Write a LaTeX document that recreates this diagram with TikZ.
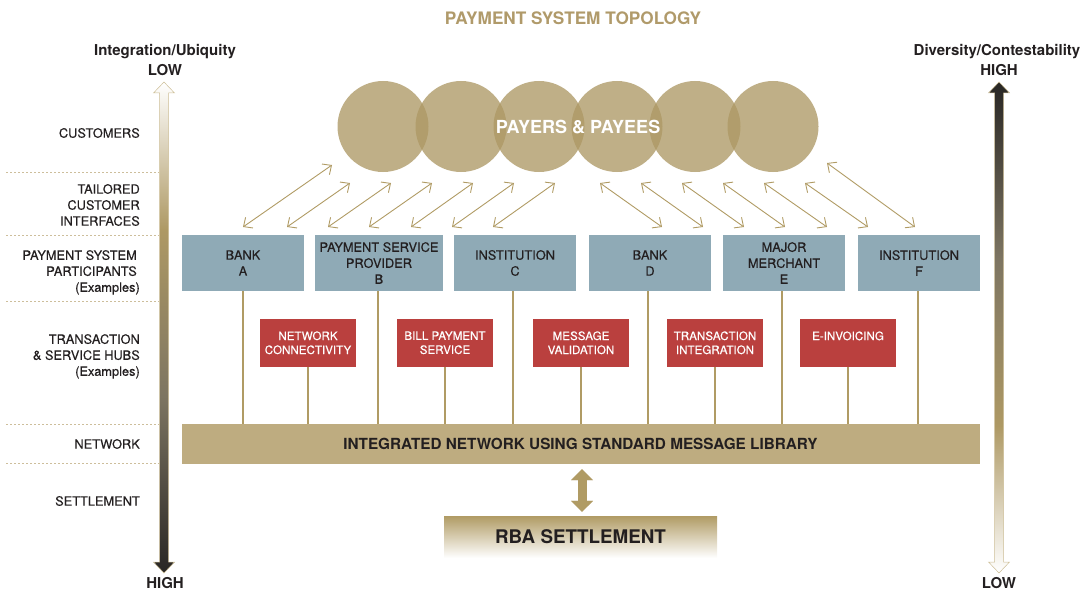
\documentclass[tikz,border=0pt]{standalone}
\usepackage{fontspec}
\setmainfont{TeX Gyre Heros}
\newfontfamily\medfont[FakeBold=0.35]{TeX Gyre Heros}
\usetikzlibrary{arrows.meta}
\newcommand\myfs[2]{\fontsize{#1}{#2}\selectfont}
\definecolor{gold}{RGB}{176,155,100}
\definecolor{titlegold}{RGB}{176,154,106}
\definecolor{circ}{RGB}{172,151,99}
\definecolor{bluebox}{RGB}{143,170,182}
\definecolor{redbox}{RGB}{186,64,62}
\definecolor{netbar}{RGB}{190,172,128}
\definecolor{dark}{RGB}{35,31,32}
\definecolor{dashc}{RGB}{205,190,155}
\definecolor{bardark}{RGB}{40,38,36}
\definecolor{bargold}{RGB}{174,153,100}
\definecolor{bargray}{RGB}{125,117,98}
\definecolor{lightgold}{RGB}{205,190,150}
\pgfdeclareverticalshading{leftbar}{100bp}{color(0bp)=(bardark); color(25bp)=(bardark); color(43bp)=(bargray); color(60bp)=(bargold); color(75bp)=(white); color(100bp)=(white)}
\pgfdeclareverticalshading{rightbar}{100bp}{color(0bp)=(white); color(25bp)=(white); color(40bp)=(bargold); color(57bp)=(bargray); color(75bp)=(bardark); color(100bp)=(bardark)}
\tikzset{
  lbl/.style={anchor=east, align=right, font=\medfont\myfs{12.8}{16}, text=dark, inner sep=0pt},
  axl/.style={anchor=base, font=\bfseries\myfs{15}{18}, text=dark, inner sep=0pt},
  bbox/.style={rectangle, fill=bluebox, minimum width=122, minimum height=56, inner sep=0pt, align=center, font=\medfont\myfs{12.8}{16}, text=dark},
  rbox/.style={rectangle, fill=redbox, minimum width=96, minimum height=48, inner sep=0pt, align=center, font=\medfont\myfs{11.6}{14}, text=white},
  conn/.style={draw=gold, line width=2},
  dbl/.style={draw=gold, line width=0.9, {Straight Barb[length=7pt,width=13pt]}-{Straight Barb[length=7pt,width=13pt]}},
  dashline/.style={draw=dashc, line width=0.8, dash pattern=on 2pt off 2pt},
  circnode/.style={circle, fill=circ, fill opacity=0.77, minimum size=91, inner sep=0pt},
}
\begin{document}
\begin{tikzpicture}[x=1pt,y=-1pt]
\useasboundingbox (0,0) rectangle (1083,591);

% title
\node[anchor=base, font=\bfseries\myfs{17.2}{20}, text=titlegold, inner sep=0pt] (title) at (573,24.5) {PAYMENT SYSTEM TOPOLOGY};

% axis labels
\node[axl] (ltop) at (165,55.3) {Integration/Ubiquity};
\node[axl] (llow) at (165,75.3) {LOW};
\node[axl] (lhigh) at (165,588.8) {HIGH};
\node[axl] (rtop) at (997,55.3) {Diversity/Contestability};
\node[axl] (rhigh) at (999,75.3) {HIGH};
\node[axl] (rlow) at (999,588.8) {LOW};

% side arrows
\shadedraw[shading=leftbar, draw=lightgold, line width=0.5] (164,82) -- (174.5,93) -- (168.5,93) -- (168.5,562) -- (174.5,562) -- (164,573) -- (153.5,562) -- (159.5,562) -- (159.5,93) -- (153.5,93) -- cycle;
\shadedraw[shading=rightbar, draw=lightgold, line width=0.5] (999,82) -- (1009.5,93) -- (1003.5,93) -- (1003.5,562) -- (1009.5,562) -- (999,573) -- (988.5,562) -- (994.5,562) -- (994.5,93) -- (988.5,93) -- cycle;

% dashed separators
\foreach \yy in {172,235,301,424,463} \draw[dashline] (6,\yy) -- (159,\yy);

% left labels
\node[lbl] (lcust) at (140,133) {CUSTOMERS};
\node[lbl] (ltail) at (140,205) {TAILORED\\CUSTOMER\\INTERFACES};
\node[lbl, text depth=0pt] (lpart) at (140,271) {PAYMENT SYSTEM\kern3pt\\PARTICIPANTS\kern3pt\\(Examples)};
\node[lbl, text depth=0pt] (lhub) at (140,355) {TRANSACTION\\\& SERVICE HUBS\\(Examples)};
\node[lbl] (lnet) at (140,444) {NETWORK};
\node[lbl] (lset) at (140,501) {SETTLEMENT};

% customers circles
\node[circnode] (c1) at (383,126.5) {};
\node[circnode] (c2) at (461,126.5) {};
\node[circnode] (c3) at (539,126.5) {};
\node[circnode] (c4) at (617,126.5) {};
\node[circnode] (c5) at (695,126.5) {};
\node[circnode] (c6) at (773,126.5) {};
\node[font=\bfseries\myfs{18}{20}, text=white, inner sep=0pt] (payers) at (578,126.7) {PAYERS \& PAYEES};

% interface arrows
\coordinate (la1) at (243,227); \coordinate (lb1) at (332,165);
\coordinate (la2) at (287,227); \coordinate (lb2) at (350,183);
\coordinate (la3) at (328,227); \coordinate (lb3) at (391,183);
\coordinate (la4) at (369,227); \coordinate (lb4) at (432,183);
\coordinate (la5) at (411,227); \coordinate (lb5) at (473,183);
\coordinate (la6) at (452,227); \coordinate (lb6) at (514,183);
\coordinate (la7) at (493,227); \coordinate (lb7) at (555,183);
\coordinate (ra1) at (600,183); \coordinate (rb1) at (662,227);
\coordinate (ra2) at (641,183); \coordinate (rb2) at (703,227);
\coordinate (ra3) at (682,183); \coordinate (rb3) at (744,227);
\coordinate (ra4) at (723,183); \coordinate (rb4) at (785,227);
\coordinate (ra5) at (764,183); \coordinate (rb5) at (827,227);
\coordinate (ra6) at (805,183); \coordinate (rb6) at (868,227);
\coordinate (ra7) at (827,163); \coordinate (rb7) at (915,227);
\foreach \i in {1,...,7} {
  \draw[dbl] (la\i) -- (lb\i);
  \draw[dbl] (ra\i) -- (rb\i);
}

% participants
\node[bbox] (A) at (243,263) {BANK\\A};
\node[bbox, minimum width=128] (B) at (379,263) {PAYMENT SERVICE\\PROVIDER\\B};
\node[bbox] (C) at (515,263) {INSTITUTION\\C};
\node[bbox] (D) at (650,263) {BANK\\D};
\node[bbox] (E) at (784,263) {MAJOR\\MERCHANT\\E};
\node[bbox] (F) at (919,263) {INSTITUTION\\F};

% hubs
\node[rbox] (h1) at (308,342.8) {NETWORK\\CONNECTIVITY};
\node[rbox] (h2) at (445,342.8) {BILL PAYMENT\\SERVICE};
\node[rbox] (h3) at (581,342.8) {MESSAGE\\VALIDATION};
\node[rbox] (h4) at (715,342.8) {TRANSACTION\\INTEGRATION};
\node[rbox] (h5) at (848,342.8) {E-INVOICING\\\phantom{I}};

% network
\node[rectangle, fill=netbar, minimum width=798, minimum height=39.5, inner sep=0pt, font=\bfseries\myfs{15.3}{18}, text=dark] (net) at (580.5,443.75) {INTEGRATED NETWORK USING STANDARD MESSAGE LIBRARY};

% connectors to network
\draw[conn] ([xshift=-0.3]A.south) -- ([xshift=-0.3]A.south |- net.north);
\draw[conn] ([xshift=-1]B.south) -- ([xshift=-1]B.south |- net.north);
\draw[conn] ([xshift=-2.3]C.south) -- ([xshift=-2.3]C.south |- net.north);
\draw[conn] ([xshift=-1.7]D.south) -- ([xshift=-1.7]D.south |- net.north);
\draw[conn] ([xshift=-2.3]E.south) -- ([xshift=-2.3]E.south |- net.north);
\draw[conn] ([xshift=-1.3]F.south) -- ([xshift=-1.3]F.south |- net.north);
\foreach \h in {h1,h2,h3,h4,h5} \draw[conn] (\h.south) -- (\h.south |- net.north);

% settlement
\node[rectangle, top color=gold, bottom color=white, minimum width=273, minimum height=42, inner sep=0pt, font=\bfseries\myfs{18.8}{22}, text=dark] (rba) at (580.5,537) {RBA SETTLEMENT};
\draw[gold, line width=9, shorten <=5.5, shorten >=4, {Triangle[length=11pt,width=22pt,line width=0.1pt]}-{Triangle[length=11pt,width=22pt,line width=0.1pt]}] ([xshift=1.5]net.south) -- ([xshift=1.5]net.south |- rba.north);
\end{tikzpicture}
\end{document}
